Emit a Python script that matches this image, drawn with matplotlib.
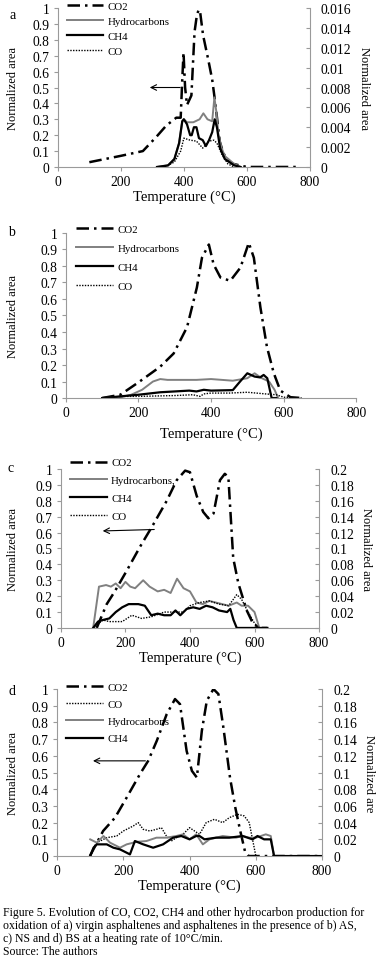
import matplotlib.pyplot as plt
import matplotlib.ticker as mt

plt.rcParams['font.family'] = ['Liberation Serif', 'DejaVu Serif']

# ---- panel a (CO2 on left axis, others on right axis 0-0.016)
a_co2_T = [100, 200, 270, 313, 344, 376, 390, 395, 399, 404, 410, 424, 434, 441, 447, 452, 461, 477, 490, 498, 507, 514, 525, 535, 555, 577, 600, 640, 700, 763]
a_co2 = [0.03, 0.07, 0.10, 0.19, 0.26, 0.31, 0.31, 0.55, 0.72, 0.50, 0.39, 0.45, 0.85, 0.95, 0.99, 0.97, 0.83, 0.68, 0.55, 0.43, 0.28, 0.16, 0.09, 0.05, 0.02, 0.01, 0.0, 0.0, 0.0, 0.0]
a_hc_T = [315, 350, 370, 385, 395, 400, 410, 430, 450, 462, 475, 490, 497, 503, 510, 520, 530, 560, 580]
a_hc = [0.0, 0.00016, 0.0008, 0.0024, 0.0046, 0.0048, 0.0045, 0.0045, 0.0048, 0.0054, 0.0048, 0.0046, 0.0070, 0.0056, 0.0032, 0.0019, 0.0011, 0.0003, 0.0]
a_ch4_T = [315, 350, 370, 385, 395, 400, 410, 420, 425, 432, 440, 448, 460, 470, 480, 490, 498, 505, 515, 530, 560, 580]
a_ch4 = [0.0, 0.00016, 0.0008, 0.0024, 0.0046, 0.0048, 0.0043, 0.0032, 0.0032, 0.004, 0.004, 0.0029, 0.0027, 0.0021, 0.0027, 0.0035, 0.0048, 0.004, 0.0019, 0.0008, 0.00016, 0.0]
a_co_T = [340, 370, 390, 400, 420, 440, 460, 480, 495, 505, 520, 540, 560]
a_co = [0.0, 0.0005, 0.0016, 0.0029, 0.0027, 0.0026, 0.0019, 0.0026, 0.0027, 0.0024, 0.0013, 0.0003, 0.0]

# ---- panel b (all on left axis)
b_co2_T = [100, 150, 200, 260, 297, 334, 361, 375, 394, 407, 426, 453, 481, 504, 518, 536, 554, 573, 591, 619, 650]
b_co2 = [0.0, 0.02, 0.095, 0.19, 0.27, 0.43, 0.67, 0.85, 0.93, 0.81, 0.73, 0.71, 0.79, 0.94, 0.85, 0.55, 0.31, 0.15, 0.045, 0.005, 0.0]
b_hc_T = [100, 150, 180, 210, 240, 260, 280, 320, 360, 400, 460, 500, 520, 540, 560, 575, 585]
b_hc = [0.0, 0.005, 0.02, 0.05, 0.10, 0.115, 0.11, 0.11, 0.11, 0.115, 0.105, 0.12, 0.15, 0.12, 0.10, 0.05, 0.0]
b_ch4_T = [100, 150, 200, 260, 300, 340, 360, 380, 400, 460, 480, 500, 520, 535, 545, 555, 567, 580]
b_ch4 = [0.0, 0.01, 0.02, 0.035, 0.04, 0.045, 0.04, 0.05, 0.045, 0.048, 0.10, 0.15, 0.13, 0.125, 0.14, 0.12, 0.0, 0.0]
b_co_T = [100, 150, 200, 300, 350, 370, 380, 400, 450, 500, 550, 580, 600, 650]
b_co = [0.0, 0.01, 0.01, 0.015, 0.02, 0.01, 0.025, 0.03, 0.03, 0.035, 0.025, 0.02, 0.005, 0.0]

# ---- panel c (CO2 left, others right axis 0-0.2)
c_co2_T = [111, 142, 167, 204, 245, 286, 328, 359, 385, 400, 421, 441, 457, 473, 493, 508, 519, 534, 550, 576, 596, 617, 640]
c_co2 = [0.0, 0.15, 0.23, 0.36, 0.51, 0.65, 0.80, 0.93, 0.99, 0.98, 0.83, 0.73, 0.69, 0.72, 0.93, 0.97, 0.95, 0.44, 0.28, 0.11, 0.025, 0.0, 0.0]
c_hc_T = [100, 118, 140, 155, 170, 185, 200, 215, 230, 255, 275, 300, 320, 340, 360, 380, 400, 420, 440, 460, 480, 500, 520, 545, 560, 580, 600, 615]
c_hc = [0.0, 0.052, 0.054, 0.052, 0.056, 0.05, 0.058, 0.052, 0.05, 0.06, 0.052, 0.046, 0.048, 0.044, 0.062, 0.05, 0.046, 0.032, 0.03, 0.034, 0.032, 0.03, 0.028, 0.032, 0.028, 0.028, 0.02, 0.0]
c_ch4_T = [100, 115, 130, 150, 170, 190, 210, 240, 260, 280, 300, 320, 340, 355, 370, 390, 410, 430, 450, 470, 490, 515, 525, 535, 545, 640]
c_ch4 = [0.0, 0.008, 0.01, 0.012, 0.02, 0.026, 0.03, 0.03, 0.028, 0.016, 0.018, 0.016, 0.016, 0.022, 0.016, 0.024, 0.026, 0.024, 0.028, 0.026, 0.022, 0.02, 0.024, 0.01, 0.0, 0.0]
c_co_T = [100, 130, 150, 190, 220, 250, 280, 320, 350, 380, 400, 430, 460, 490, 520, 545, 560, 580, 600, 615]
c_co = [0.0, 0.01, 0.008, 0.008, 0.016, 0.012, 0.014, 0.02, 0.02, 0.02, 0.028, 0.032, 0.034, 0.03, 0.028, 0.042, 0.036, 0.02, 0.006, 0.0]

# ---- panel d (CO2 left, others right axis 0-0.2)
d_co2_T = [99, 139, 175, 210, 250, 275, 301, 331, 356, 371, 391, 407, 422, 437, 452, 472, 487, 502, 522, 538, 553, 567, 578, 650, 790]
d_co2 = [0.0, 0.15, 0.23, 0.35, 0.49, 0.57, 0.69, 0.85, 0.94, 0.91, 0.63, 0.51, 0.47, 0.75, 0.93, 1.0, 0.97, 0.77, 0.47, 0.29, 0.15, 0.03, 0.0, 0.0, 0.0]
d_co_T = [100, 120, 150, 180, 200, 230, 245, 260, 280, 300, 315, 330, 345, 360, 380, 400, 415, 430, 450, 475, 500, 520, 545, 565, 580, 590, 600]
d_co = [0.0, 0.016, 0.022, 0.024, 0.03, 0.036, 0.04, 0.032, 0.03, 0.032, 0.034, 0.024, 0.018, 0.022, 0.026, 0.034, 0.03, 0.026, 0.04, 0.044, 0.04, 0.046, 0.05, 0.048, 0.04, 0.02, 0.0]
d_hc_T = [100, 120, 140, 160, 190, 210, 240, 270, 300, 330, 360, 380, 400, 420, 440, 460, 500, 540, 560, 580, 600, 630, 645, 655]
d_hc = [0.02, 0.016, 0.024, 0.016, 0.01, 0.014, 0.017, 0.018, 0.022, 0.022, 0.024, 0.026, 0.02, 0.026, 0.014, 0.02, 0.024, 0.022, 0.024, 0.022, 0.022, 0.026, 0.024, 0.0]
d_ch4_T = [100, 110, 120, 150, 170, 190, 210, 220, 235, 260, 290, 320, 350, 375, 400, 420, 430, 445, 480, 520, 560, 590, 605, 625, 645, 655, 800]
d_ch4 = [0.0, 0.01, 0.014, 0.014, 0.01, 0.008, 0.004, 0.002, 0.018, 0.014, 0.01, 0.014, 0.022, 0.024, 0.02, 0.024, 0.024, 0.02, 0.022, 0.022, 0.024, 0.02, 0.024, 0.02, 0.02, 0.0, 0.0]

x_ticks = [0, 200, 400, 600, 800]
left_ticks = [0, 0.1, 0.2, 0.3, 0.4, 0.5, 0.6, 0.7, 0.8, 0.9, 1]

GRAY = '#808080'
SP = '#9a9a9a'
CO2_DASH = (0, (5, 2, 1, 2))
TICK_FS = 9.8
LEG = dict(loc='upper left', frameon=False, fontsize=7.8, handlelength=3.4,
           handletextpad=0.4, borderpad=0, borderaxespad=0)


def fmt(v, pos):
    s = ('%.3f' % v).rstrip('0').rstrip('.')
    return s


def style(ax, ylab_x, xpad=1):
    for s in ['top', 'right']:
        ax.spines[s].set_visible(False)
    ax.spines['left'].set_color(SP)
    ax.spines['bottom'].set_color(SP)
    ax.set_xlim(0, 800)
    ax.set_ylim(0, 1)
    ax.set_xticks(x_ticks)
    ax.set_yticks(left_ticks)
    ax.yaxis.set_major_formatter(mt.FuncFormatter(fmt))
    ax.tick_params(labelsize=TICK_FS, color=SP, length=3, width=0.8, pad=3)
    ax.set_ylabel('Normalized area', fontsize=9)
    ax.yaxis.set_label_coords(ylab_x, 0.5)
    ax.set_xlabel('Temperature (°C)', fontsize=10.5, labelpad=xpad)


fig = plt.figure(figsize=(3.83, 9.62), dpi=100)

pos = {
    'a': [0.151, 0.8254, 0.658, 0.1652],
    'b': [0.172, 0.5852, 0.758, 0.1716],
    'c': [0.159, 0.3462, 0.674, 0.1652],
    'd': [0.149, 0.1091, 0.692, 0.1736],
}
axes2 = []

# panel a
ax = fig.add_axes(pos['a'])
style(ax, -0.155)
ax2 = ax.twinx()
ax2.set_ylim(0, 0.016)
ax2.set_yticks([0, 0.002, 0.004, 0.006, 0.008, 0.01, 0.012, 0.014, 0.016])
l1, = ax.plot(a_co2_T, a_co2, color='black', lw=1.8, linestyle=CO2_DASH)
l2, = ax2.plot(a_hc_T, a_hc, color=GRAY, lw=1.4)
l3, = ax2.plot(a_ch4_T, a_ch4, color='black', lw=1.6)
l4, = ax2.plot(a_co_T, a_co, color='black', lw=1.0, linestyle=(0, (1, 1)))
ax.annotate('', xy=(283, 0.5), xytext=(397, 0.5),
            arrowprops=dict(arrowstyle='->', color='black', lw=0.8))
ax.text(-0.19, 0.96, 'a', transform=ax.transAxes, fontsize=10, va='center')
axes2.append((ax2, 'Normalized area'))
ax.legend([l1, l2, l3, l4], ['CO2', 'Hydrocarbons', 'CH4', 'CO'],
          bbox_to_anchor=(0.035, 1.04), labelspacing=0.5, **LEG)

# panel b
ax = fig.add_axes(pos['b'])
style(ax, -0.162, xpad=5)
l1, = ax.plot(b_co2_T, b_co2, color='black', lw=1.8, linestyle=CO2_DASH)
l2, = ax.plot(b_hc_T, b_hc, color=GRAY, lw=1.4)
l3, = ax.plot(b_ch4_T, b_ch4, color='black', lw=1.6)
l4, = ax.plot(b_co_T, b_co, color='black', lw=1.0, linestyle=(0, (1, 1)))
ax.text(-0.2, 1.01, 'b', transform=ax.transAxes, fontsize=10, va='center')
ax.legend([l1, l2, l3, l4], ['CO2', 'Hydrocarbons', 'CH4', 'CO'],
          bbox_to_anchor=(0.035, 1.05), labelspacing=0.85, **LEG)

# panel c
ax = fig.add_axes(pos['c'])
style(ax, -0.163)
ax2 = ax.twinx()
ax2.set_ylim(0, 0.2)
ax2.set_yticks([0, 0.02, 0.04, 0.06, 0.08, 0.1, 0.12, 0.14, 0.16, 0.18, 0.2])
l1, = ax.plot(c_co2_T, c_co2, color='black', lw=1.8, linestyle=CO2_DASH)
l2, = ax2.plot(c_hc_T, c_hc, color=GRAY, lw=1.4)
l3, = ax2.plot(c_ch4_T, c_ch4, color='black', lw=1.6)
l4, = ax2.plot(c_co_T, c_co, color='black', lw=1.0, linestyle=(0, (1, 1)))
ax.annotate('', xy=(121, 0.61), xytext=(298, 0.62),
            arrowprops=dict(arrowstyle='->', color='black', lw=0.8))
ax.text(-0.205, 1.01, 'c', transform=ax.transAxes, fontsize=10, va='center')
axes2.append((ax2, 'Normalized area'))
ax.legend([l1, l2, l3, l4], ['CO2', 'Hydrocarbons,', 'CH4', 'CO'],
          bbox_to_anchor=(0.035, 1.07), labelspacing=0.75, **LEG)

# panel d
ax = fig.add_axes(pos['d'])
style(ax, -0.143)
ax2 = ax.twinx()
ax2.set_ylim(0, 0.2)
ax2.set_yticks([0, 0.02, 0.04, 0.06, 0.08, 0.1, 0.12, 0.14, 0.16, 0.18, 0.2])
l1, = ax.plot(d_co2_T, d_co2, color='black', lw=1.8, linestyle=CO2_DASH)
l4, = ax2.plot(d_co_T, d_co, color='black', lw=1.0, linestyle=(0, (1, 1)))
l2, = ax2.plot(d_hc_T, d_hc, color=GRAY, lw=1.4)
l3, = ax2.plot(d_ch4_T, d_ch4, color='black', lw=1.6)
ax.annotate('', xy=(100, 0.57), xytext=(275, 0.57),
            arrowprops=dict(arrowstyle='->', color='black', lw=0.8))
ax.text(-0.185, 0.99, 'd', transform=ax.transAxes, fontsize=10, va='center')
axes2.append((ax2, 'Normalized are'))
ax.legend([l1, l4, l2, l3], ['CO2', 'CO', 'Hydrocarbons', 'CH4'],
          bbox_to_anchor=(0.035, 1.04), labelspacing=0.7, **LEG)

for ax2, lab in axes2:
    for s in ['top', 'left', 'bottom']:
        ax2.spines[s].set_visible(False)
    ax2.spines['right'].set_color(SP)
    ax2.yaxis.set_major_formatter(mt.FuncFormatter(fmt))
    ax2.tick_params(labelsize=TICK_FS, color=SP, length=3, width=0.8, pad=8, direction='in')
    ax2.set_ylabel(lab, fontsize=9, rotation=-90, labelpad=13)

caption = ('Figure 5. Evolution of CO, CO2, CH4 and other hydrocarbon production for\n'
           'oxidation of a) virgin asphaltenes and asphaltenes in the presence of b) AS,\n'
           'c) NS and d) BS at a heating rate of 10°C/min.\n'
           'Source: The authors')
fig.text(0.008, 0.004, caption, fontsize=8.5, ha='left', va='bottom', linespacing=1.1)

fig.savefig('out.png', dpi=100)
